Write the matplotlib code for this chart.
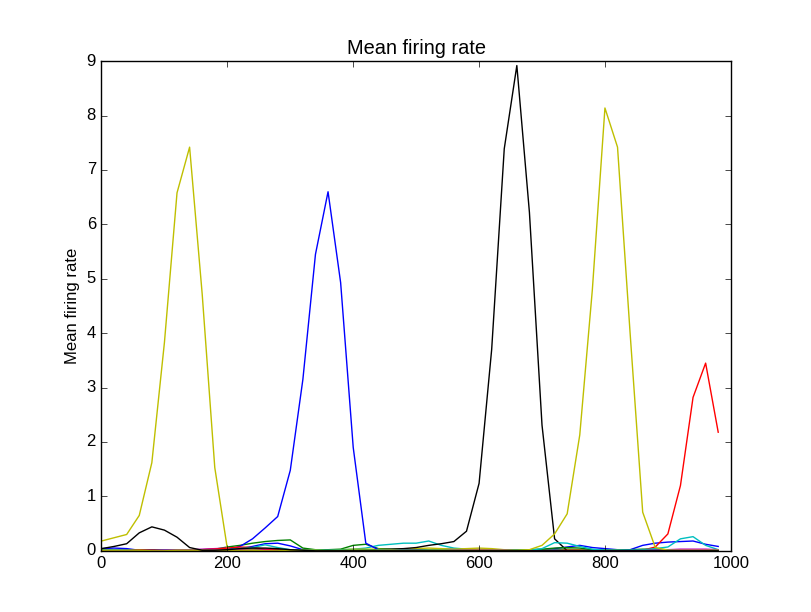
import matplotlib
matplotlib.use('Agg')
import matplotlib.pyplot as plt
import numpy as np

# time bins (ms)
t = np.arange(0, 1000, 20)

# mean firing rate of each unit, one list per unit
rate_0 = [0.04, 0.05, 0.04, 0.01, 0.01, 0.01, 0.01, 0.01, 0.02, 0.02,
          0.02, 0.04, 0.08, 0.13, 0.14, 0.09, 0.02, 0.01, 0.01, 0.01,
          0.01, 0.01, 0.01, 0.01, 0.01, 0.02, 0.02, 0.03, 0.03, 0.02,
          0.03, 0.02, 0.02, 0.01, 0.01, 0.01, 0.04, 0.07, 0.10, 0.06,
          0.04, 0.02, 0.02, 0.10, 0.14, 0.16, 0.17, 0.18, 0.12, 0.08]
rate_1 = [0.00, 0.00, 0.01, 0.01, 0.00, 0.01, 0.01, 0.01, 0.02, 0.03,
          0.07, 0.10, 0.14, 0.17, 0.19, 0.20, 0.05, 0.02, 0.02, 0.03,
          0.10, 0.12, 0.04, 0.03, 0.03, 0.02, 0.02, 0.01, 0.01, 0.01,
          0.02, 0.02, 0.01, 0.01, 0.01, 0.01, 0.02, 0.03, 0.02, 0.01,
          0.01, 0.01, 0.02, 0.03, 0.03, 0.02, 0.01, 0.01, 0.01, 0.01]
rate_2 = [0.00, 0.00, 0.00, 0.01, 0.00, 0.00, 0.00, 0.01, 0.01, 0.01,
          0.01, 0.01, 0.00, 0.00, 0.00, 0.01, 0.00, 0.00, 0.00, 0.00,
          0.01, 0.00, 0.00, 0.00, 0.01, 0.01, 0.00, 0.00, 0.00, 0.01,
          0.01, 0.00, 0.00, 0.00, 0.00, 0.00, 0.01, 0.00, 0.00, 0.00,
          0.00, 0.00, 0.00, 0.01, 0.07, 0.31, 1.20, 2.82, 3.45, 2.18]
rate_3 = [0.01, 0.01, 0.01, 0.00, 0.01, 0.01, 0.01, 0.01, 0.01, 0.01,
          0.01, 0.02, 0.03, 0.03, 0.02, 0.02, 0.01, 0.01, 0.01, 0.02,
          0.03, 0.05, 0.10, 0.12, 0.14, 0.14, 0.18, 0.10, 0.05, 0.03,
          0.02, 0.02, 0.01, 0.01, 0.01, 0.01, 0.01, 0.01, 0.01, 0.01,
          0.01, 0.01, 0.01, 0.02, 0.04, 0.07, 0.22, 0.26, 0.10, 0.02]
rate_4 = [0.00, 0.00, 0.01, 0.01, 0.01, 0.01, 0.01, 0.02, 0.03, 0.04,
          0.05, 0.04, 0.03, 0.02, 0.01, 0.01, 0.01, 0.00, 0.00, 0.01,
          0.01, 0.01, 0.01, 0.01, 0.01, 0.01, 0.01, 0.01, 0.01, 0.01,
          0.01, 0.02, 0.02, 0.01, 0.01, 0.01, 0.00, 0.00, 0.00, 0.01,
          0.01, 0.01, 0.01, 0.01, 0.01, 0.02, 0.03, 0.03, 0.03, 0.02]
rate_5 = [0.18, 0.24, 0.30, 0.65, 1.62, 3.83, 6.58, 7.42, 4.72, 1.53,
          0.04, 0.02, 0.02, 0.01, 0.01, 0.01, 0.00, 0.01, 0.02, 0.02,
          0.03, 0.03, 0.03, 0.02, 0.03, 0.04, 0.05, 0.04, 0.03, 0.04,
          0.05, 0.04, 0.02, 0.01, 0.01, 0.02, 0.01, 0.01, 0.01, 0.00,
          0.00, 0.01, 0.00, 0.00, 0.00, 0.01, 0.01, 0.00, 0.00, 0.00]
rate_6 = [0.00, 0.00, 0.01, 0.00, 0.00, 0.00, 0.01, 0.00, 0.00, 0.00,
          0.01, 0.01, 0.00, 0.00, 0.01, 0.00, 0.00, 0.00, 0.01, 0.00,
          0.00, 0.01, 0.02, 0.03, 0.04, 0.06, 0.10, 0.13, 0.17, 0.36,
          1.24, 3.70, 7.39, 8.92, 6.22, 2.31, 0.22, 0.00, 0.00, 0.00,
          0.00, 0.00, 0.00, 0.00, 0.00, 0.00, 0.00, 0.00, 0.00, 0.00]
rate_7 = [0.01, 0.01, 0.01, 0.00, 0.01, 0.01, 0.00, 0.01, 0.01, 0.01,
          0.02, 0.08, 0.22, 0.42, 0.63, 1.48, 3.15, 5.45, 6.60, 4.93,
          1.90, 0.14, 0.02, 0.01, 0.01, 0.01, 0.01, 0.00, 0.01, 0.01,
          0.01, 0.00, 0.01, 0.01, 0.00, 0.01, 0.01, 0.00, 0.00, 0.01,
          0.00, 0.00, 0.01, 0.00, 0.00, 0.00, 0.01, 0.00, 0.00, 0.00]
rate_8 = [0.01, 0.01, 0.00, 0.01, 0.01, 0.01, 0.00, 0.01, 0.01, 0.01,
          0.01, 0.01, 0.01, 0.01, 0.01, 0.00, 0.01, 0.01, 0.01, 0.01,
          0.01, 0.01, 0.01, 0.01, 0.01, 0.01, 0.01, 0.01, 0.01, 0.01,
          0.01, 0.01, 0.01, 0.01, 0.02, 0.03, 0.05, 0.06, 0.05, 0.02,
          0.01, 0.01, 0.01, 0.01, 0.01, 0.01, 0.01, 0.01, 0.01, 0.01]
rate_9 = [0.00, 0.00, 0.00, 0.01, 0.01, 0.01, 0.01, 0.01, 0.02, 0.03,
          0.05, 0.07, 0.06, 0.03, 0.01, 0.01, 0.00, 0.00, 0.00, 0.00,
          0.00, 0.00, 0.00, 0.01, 0.01, 0.01, 0.00, 0.00, 0.01, 0.01,
          0.02, 0.01, 0.01, 0.00, 0.00, 0.00, 0.00, 0.01, 0.01, 0.00,
          0.00, 0.00, 0.00, 0.00, 0.00, 0.00, 0.00, 0.00, 0.00, 0.00]
rate_10 = [0.01, 0.01, 0.01, 0.00, 0.00, 0.01, 0.01, 0.01, 0.01, 0.01,
           0.02, 0.04, 0.06, 0.11, 0.06, 0.02, 0.01, 0.01, 0.01, 0.01,
           0.01, 0.01, 0.01, 0.01, 0.01, 0.01, 0.01, 0.01, 0.01, 0.01,
           0.01, 0.01, 0.01, 0.01, 0.01, 0.04, 0.15, 0.14, 0.08, 0.03,
           0.01, 0.01, 0.01, 0.01, 0.01, 0.01, 0.01, 0.01, 0.01, 0.01]
rate_11 = [0.00, 0.00, 0.00, 0.00, 0.00, 0.01, 0.01, 0.01, 0.01, 0.02,
           0.02, 0.02, 0.01, 0.01, 0.00, 0.00, 0.00, 0.00, 0.00, 0.00,
           0.00, 0.00, 0.00, 0.00, 0.00, 0.00, 0.00, 0.00, 0.01, 0.01,
           0.01, 0.01, 0.01, 0.00, 0.00, 0.00, 0.00, 0.00, 0.00, 0.00,
           0.00, 0.00, 0.00, 0.00, 0.01, 0.01, 0.02, 0.02, 0.02, 0.01]
rate_12 = [0.01, 0.01, 0.01, 0.01, 0.00, 0.00, 0.01, 0.01, 0.01, 0.01,
           0.01, 0.01, 0.01, 0.00, 0.00, 0.01, 0.01, 0.01, 0.00, 0.00,
           0.01, 0.01, 0.01, 0.01, 0.00, 0.00, 0.01, 0.01, 0.01, 0.01,
           0.01, 0.01, 0.01, 0.01, 0.02, 0.10, 0.31, 0.68, 2.13, 4.80,
           8.14, 7.42, 4.00, 0.71, 0.06, 0.01, 0.01, 0.01, 0.01, 0.01]
rate_13 = [0.04, 0.08, 0.13, 0.33, 0.44, 0.38, 0.25, 0.06, 0.01, 0.01,
           0.02, 0.04, 0.05, 0.05, 0.04, 0.02, 0.01, 0.00, 0.00, 0.00,
           0.00, 0.00, 0.00, 0.00, 0.00, 0.00, 0.00, 0.00, 0.00, 0.00,
           0.00, 0.00, 0.00, 0.00, 0.00, 0.00, 0.00, 0.00, 0.00, 0.00,
           0.00, 0.00, 0.00, 0.00, 0.00, 0.00, 0.00, 0.00, 0.00, 0.00]

rates = [rate_0, rate_1, rate_2, rate_3, rate_4, rate_5, rate_6,
         rate_7, rate_8, rate_9, rate_10, rate_11, rate_12, rate_13]

plt.style.use('classic')
plt.rcParams['font.family'] = ['Liberation Sans', 'DejaVu Sans']

fig = plt.figure(figsize=(8.12, 6.12), dpi=100)
ax = fig.add_subplot(111)

# old default colour cycle b, g, r, c, m, y, k
for r in rates:
    ax.plot(t, r)

ax.set_xlim(0, 1000)
ax.set_ylim(0, 9)
ax.set_title('Mean firing rate')
ax.set_ylabel('Mean firing rate')

fig.savefig('out.png', dpi=100, facecolor='white')
